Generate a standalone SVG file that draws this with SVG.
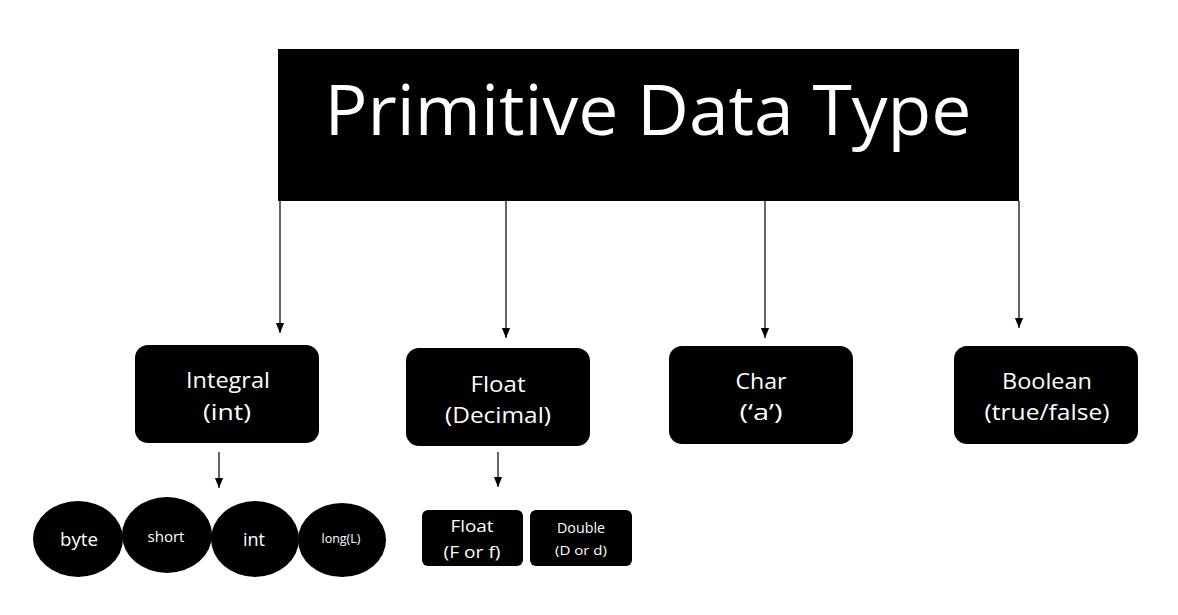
<svg xmlns="http://www.w3.org/2000/svg" width="1178" height="615" viewBox="0 0 1178 615">
<style>
.box{fill:#000}
.t{fill:#fff;font-family:"Open Sans","Liberation Sans",sans-serif;text-anchor:middle}
.b{font-size:22px}
.c{stroke:#000;stroke-width:1.2;fill:none}
</style>
<defs>
<marker id="ahd" markerUnits="userSpaceOnUse" markerWidth="10" markerHeight="12" refX="11" refY="4.5" orient="auto" viewBox="0 0 11 9">
<path d="M0,0 L11,4.5 L0,9 Z" fill="#000"/>
</marker>
</defs>
<rect width="1178" height="615" fill="#fff"/>
<g id="connectors">
<line class="c" x1="280" y1="201" x2="280" y2="333" marker-end="url(#ahd)"/>
<line class="c" x1="506" y1="201" x2="506" y2="338" marker-end="url(#ahd)"/>
<line class="c" x1="765" y1="201" x2="765" y2="338" marker-end="url(#ahd)"/>
<line class="c" x1="1019" y1="201" x2="1019" y2="328" marker-end="url(#ahd)"/>
<line class="c" x1="219" y1="452" x2="219" y2="488" marker-end="url(#ahd)"/>
<line class="c" x1="498" y1="452" x2="498" y2="487" marker-end="url(#ahd)"/>
</g>
<g id="root">
<rect class="box" x="278" y="49" width="741" height="152"/>
<text class="t" x="648" y="135" font-size="70" textLength="647" lengthAdjust="spacingAndGlyphs">Primitive Data Type</text>
</g>
<g id="integral">
<rect class="box" x="135" y="345" width="184" height="98" rx="13"/>
<text class="t b" x="228" y="388" textLength="84" lengthAdjust="spacingAndGlyphs">Integral</text>
<text class="t b" x="227" y="420" textLength="48" lengthAdjust="spacingAndGlyphs">(int)</text>
</g>
<g id="float">
<rect class="box" x="406" y="348" width="184" height="98" rx="13"/>
<text class="t b" x="498" y="392" textLength="55" lengthAdjust="spacingAndGlyphs">Float</text>
<text class="t b" x="498" y="423" textLength="106" lengthAdjust="spacingAndGlyphs">(Decimal)</text>
</g>
<g id="char">
<rect class="box" x="669" y="346" width="184" height="98" rx="13"/>
<text class="t b" x="761" y="389" textLength="51" lengthAdjust="spacingAndGlyphs">Char</text>
<text class="t b" x="761" y="420" textLength="43" lengthAdjust="spacingAndGlyphs">(‘a’)</text>
</g>
<g id="boolean">
<rect class="box" x="954" y="346" width="184" height="98" rx="13"/>
<text class="t b" x="1047" y="389" textLength="90" lengthAdjust="spacingAndGlyphs">Boolean</text>
<text class="t b" x="1047" y="420" textLength="125" lengthAdjust="spacingAndGlyphs">(true/false)</text>
</g>
<g id="byte">
<ellipse class="box" cx="78" cy="539" rx="45" ry="38"/>
<text class="t" x="79" y="546" font-size="19" textLength="38" lengthAdjust="spacingAndGlyphs">byte</text>
</g>
<g id="short">
<ellipse class="box" cx="167" cy="535" rx="45" ry="38"/>
<text class="t" x="166" y="542" font-size="15" textLength="37" lengthAdjust="spacingAndGlyphs">short</text>
</g>
<g id="int">
<ellipse class="box" cx="255" cy="539" rx="44" ry="38"/>
<text class="t" x="254" y="546" font-size="19" textLength="22" lengthAdjust="spacingAndGlyphs">int</text>
</g>
<g id="long">
<ellipse class="box" cx="342" cy="540" rx="44" ry="37"/>
<text class="t" x="341" y="543" font-size="12" textLength="39" lengthAdjust="spacingAndGlyphs">long(L)</text>
</g>
<g id="floatF">
<rect class="box" x="422" y="510" width="101" height="56" rx="6"/>
<text class="t" x="472" y="532" font-size="16" textLength="43" lengthAdjust="spacingAndGlyphs">Float</text>
<text class="t" x="472" y="558" font-size="16" textLength="57" lengthAdjust="spacingAndGlyphs">(F or f)</text>
</g>
<g id="double">
<rect class="box" x="530" y="510" width="102" height="56" rx="6"/>
<text class="t" x="581" y="533" font-size="14" textLength="48" lengthAdjust="spacingAndGlyphs">Double</text>
<text class="t" x="581" y="555" font-size="13" textLength="52" lengthAdjust="spacingAndGlyphs">(D or d)</text>
</g>
</svg>
